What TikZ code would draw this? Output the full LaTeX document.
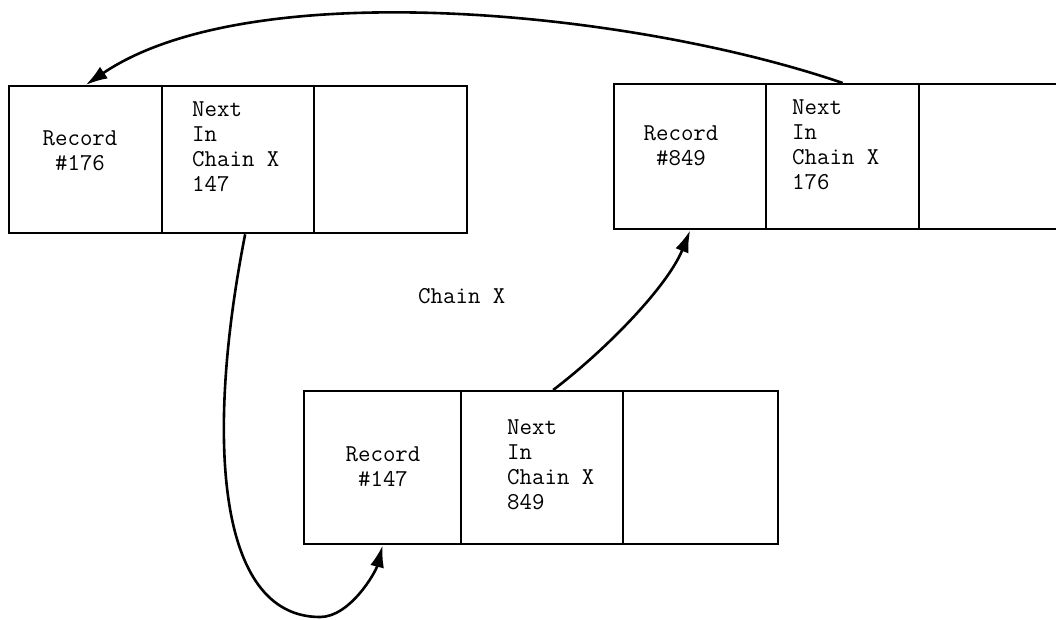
\documentclass[tikz,border=0pt]{standalone}
\usetikzlibrary{arrows.meta}
\tikzset{
  >={Latex[length=22pt,width=14pt]},
  link/.style={->, line width=2.6pt, draw=black},
  cell/.style={draw=black, line width=2.3pt, anchor=north west, inner sep=0pt,
    minimum height=147pt},
  celltext/.style={inner sep=0pt, font=\fontsize{24.2}{24.8}\selectfont\ttfamily},
  rectext/.style={celltext, align=center, anchor=north},
  nexttext/.style={celltext, align=left, anchor=north west}
}

\begin{document}
\begin{tikzpicture}[x=1pt, y=-1pt]
  \clip (0,0) rectangle (1056,619);

  % Record 176, top left.
  \node[cell, minimum width=153pt] (r176) at (8,85) {};
  \node[cell, minimum width=152pt] (n176) at (161,85) {};
  \node[cell, minimum width=153pt] (e176) at (313,85) {};
  \node[rectext] (lr176) at (80,131) {Record\\\#176};
  \node[nexttext] (ln176) at (192,102) {Next\\In\\Chain X\\147};

  % Record 849, top right (runs off the edge).
  \node[cell, minimum width=152pt, minimum height=145pt] (r849) at (613,83) {};
  \node[cell, minimum width=153pt, minimum height=145pt] (n849) at (765,83) {};
  \node[cell, minimum width=153pt, minimum height=145pt] (e849) at (918,83) {};
  \node[rectext] (lr849) at (681,126) {Record\\\#849};
  \node[nexttext] (ln849) at (792,100) {Next\\In\\Chain X\\176};

  % Record 147, bottom middle.
  \node[cell, minimum width=157pt, minimum height=153pt] (r147) at (303,390) {};
  \node[cell, minimum width=162pt, minimum height=153pt] (n147) at (460,390) {};
  \node[cell, minimum width=155pt, minimum height=153pt] (e147) at (622,390) {};
  \node[rectext] (lr147) at (383,447) {Record\\\#147};
  \node[nexttext] (ln147) at (507,420) {Next\\In\\Chain X\\849};

  \node[celltext, anchor=base west] (chainx) at (418,303) {Chain X};

  % Chain links.
  \coordinate (loop147) at (320,617);
  \draw[link] (n849.north) .. controls +(-210,-72) and +(165,-112) .. (r176.north);
  \draw[link] ([xshift=7pt]n176.south) .. controls +(-39,198) and +(-105,0) .. (loop147)
    .. controls +(30,0) and +(-7,27) .. (r147.south);
  \draw[link] ([xshift=11pt]n147.north) .. controls +(55,-42) and +(-22,55) .. (r849.south);
\end{tikzpicture}
\end{document}
